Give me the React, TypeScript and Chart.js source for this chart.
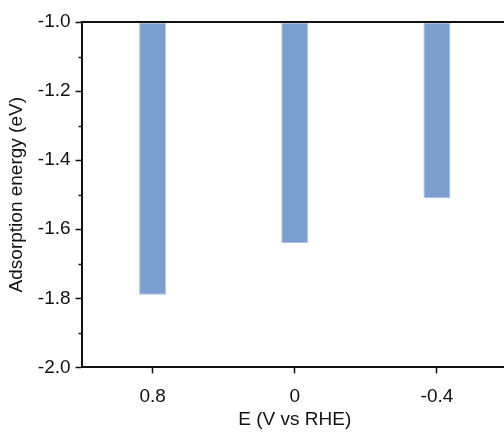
import React, { useEffect, useRef } from "react";
import { Chart, registerables } from "chart.js";

Chart.register(...registerables);

// Potential (V vs RHE) and adsorption energy (eV) at each potential
const potentials = ["0.8", "0", "-0.4"];
const adsorptionEnergy = [-1.79, -1.64, -1.51];
const energyTop = -1.0;
const energyBottom = -2.0;

const FONT = "'Liberation Sans', Arial, sans-serif";
const INK = "#111111";
const SIZE = 19;

// Frame line along the top and short minor ticks on the y axis
const framePlugin = {
  id: "frameAndMinorTicks",
  afterDraw(chart: any) {
    const { ctx, chartArea, scales } = chart;
    const y = scales.y;
    ctx.save();
    ctx.strokeStyle = INK;
    ctx.lineWidth = 2;
    ctx.beginPath();
    ctx.moveTo(chartArea.left - 1, chartArea.top);
    ctx.lineTo(chartArea.right, chartArea.top);
    ctx.stroke();
    ctx.lineWidth = 1.5;
    y.ticks.forEach((t: any, i: number) => {
      if (i % 2 === 1) {
        const py = Math.round(y.getPixelForValue(t.value)) + 0.5;
        ctx.beginPath();
        ctx.moveTo(chartArea.left - 3, py);
        ctx.lineTo(chartArea.left, py);
        ctx.stroke();
      }
    });
    ctx.restore();
  },
};

export default function App() {
  const ref = useRef<HTMLCanvasElement>(null);

  useEffect(() => {
    if (!ref.current) return;
    const chart = new Chart(ref.current, {
      type: "bar",
      data: {
        labels: potentials,
        datasets: [
          {
            data: adsorptionEnergy,
            base: energyTop,
            backgroundColor: "#7c9fcf",
            borderColor: "#a9c1e4",
            borderWidth: 1,
            borderSkipped: false,
            barPercentage: 0.19,
            categoryPercentage: 1,
          },
        ],
      },
      options: {
        responsive: false,
        animation: false,
        devicePixelRatio: 1,
        layout: { padding: { top: 22, right: 12, left: 5, bottom: 1 } },
        plugins: { legend: { display: false }, tooltip: { enabled: false } },
        scales: {
          x: {
            type: "category",
            offset: true,
            grid: {
              display: true,
              offset: false,
              drawOnChartArea: false,
              tickLength: 6,
              tickColor: INK,
              tickWidth: 1.5,
            },
            border: { display: true, color: INK, width: 2 },
            ticks: { color: INK, font: { family: FONT, size: SIZE }, padding: 12 },
            title: {
              display: true,
              text: "E (V vs RHE)",
              color: INK,
              font: { family: FONT, size: SIZE },
              padding: { top: -12, bottom: 0 },
            },
          },
          y: {
            type: "linear",
            min: energyBottom,
            max: energyTop,
            grid: {
              display: true,
              drawOnChartArea: false,
              tickLength: 6,
              tickWidth: 1.5,
              tickColor: (c: any) => (c.index % 2 === 0 ? INK : "rgba(0,0,0,0)"),
            },
            border: { display: true, color: INK, width: 2 },
            ticks: {
              stepSize: 0.1,
              color: INK,
              font: { family: FONT, size: SIZE },
              padding: 5,
              callback: (v: any, i: number) => (i % 2 === 0 ? Number(v).toFixed(1) : ""),
            },
            title: {
              display: true,
              text: "Adsorption energy (eV)",
              color: INK,
              font: { family: FONT, size: SIZE },
              padding: { top: 0, bottom: 5 },
            },
          },
        },
      },
      plugins: [framePlugin],
    });
    return () => chart.destroy();
  }, []);

  return (
    <div
      style={{
        position: "fixed",
        left: 0,
        top: 0,
        width: 504,
        height: 432,
        overflow: "hidden",
        background: "#ffffff",
      }}
    >
      <canvas ref={ref} width={520} height={432} style={{ display: "block" }} />
    </div>
  );
}
